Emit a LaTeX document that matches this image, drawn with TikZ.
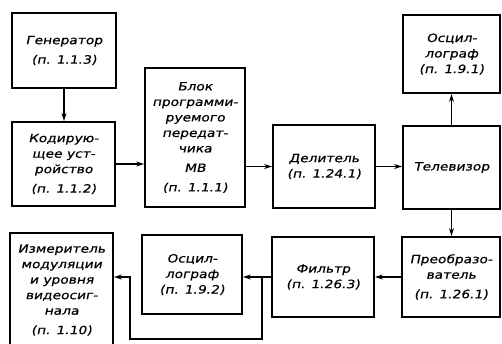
\documentclass[tikz,border=0pt]{standalone}
\usepackage{fontspec}
\newfontfamily\gostfont[FakeSlant=0.2,FakeStretch=1.2,FakeBold=0.6]{DejaVu Sans}
\usetikzlibrary{arrows.meta}

\begin{document}
\begin{tikzpicture}[x=1pt,y=-1pt,>={Stealth[length=8pt,width=5pt]},line width=1.5pt,line cap=round,
  blk/.style={draw,line width=1.8pt,inner sep=0pt,align=center,font=\gostfont\fontsize{11.5}{15.5}\selectfont}]
\useasboundingbox[fill=white] (0,0) rectangle (502,343);
% left column
\node[blk,minimum width=104pt,minimum height=75pt] (gen) at (64,50.5) {Генератор\\[4pt](п. 1.1.3)};
\node[blk,minimum width=103pt,minimum height=84pt] (kod) at (63.5,164) {Кодирую-\\щее уст-\\ройство\\[4pt](п. 1.1.2)};
\node[blk,minimum width=103pt,minimum height=114pt] (izm) at (61.5,290) {Измеритель\\модуляции\\и уровня\\видеосиг-\\нала\\[4pt](п. 1.10)};
% middle columns
\node[blk,minimum width=100pt,minimum height=139pt] (blok) at (195,137.5) {Блок\\программи-\\руемого\\передат-\\чика\\[4pt]МВ\\[4pt](п. 1.1.1)};
\node[blk,minimum width=100pt,minimum height=79pt] (osc2) at (192,274.5) {Осцил-\\лограф\\(п. 1.9.2)};
\node[blk,minimum width=102pt,minimum height=83pt] (del) at (324,166.5) {Делитель\\(п. 1.24.1)};
\node[blk,minimum width=102pt,minimum height=80pt] (filt) at (323,277) {Фильтр\\(п. 1.26.3)};
% right column
\node[blk,minimum width=97pt,minimum height=78pt] (osc1) at (451.5,54) {Осцил-\\лограф\\(п. 1.9.1)};
\node[blk,minimum width=97pt,minimum height=83pt] (tv) at (451.5,167.5) {Телевизор};
\node[blk,minimum width=98pt,minimum height=80pt] (preob) at (451,277) {Преобразо-\\ватель\\[4pt](п. 1.26.1)};
% connections
\draw[->] (gen.south) -- (gen.south |- kod.north);
\draw[->] (kod.east) -- (kod.east -| blok.west);
\draw[->] (del.west -| blok.east) -- (del.west);
\draw[->] (del.east) -- (del.east -| tv.west);
\draw[->] (tv.north) -- (tv.north |- osc1.south);
\draw[->] (tv.south) -- (tv.south |- preob.north);
\draw[->] (preob.west) -- (preob.west -| filt.east);
\draw[->] (filt.west) -- (filt.west -| osc2.east) coordinate[pos=0.33] (jn);
\coordinate (lp) at (130,339);
\draw[->] (jn) |- (lp) |- (izm.east |- jn);
\end{tikzpicture}
\end{document}
